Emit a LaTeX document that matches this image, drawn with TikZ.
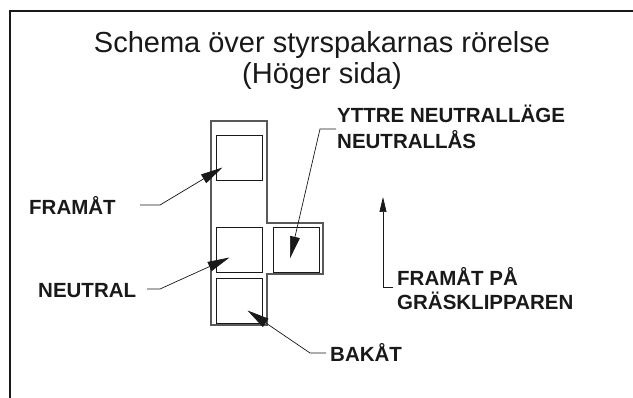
\documentclass[tikz,border=0pt]{standalone}
\usepackage{fontspec}
\setmainfont{Liberation Sans}
\usetikzlibrary{arrows.meta, positioning}
\definecolor{mainBlack}{gray}{0.1}
\definecolor{subGray}{gray}{0.35}

\begin{document}
\begin{tikzpicture}[x=1pt, y=-1pt,
    lbl/.style={font=\bfseries\fontsize{20.5}{23}\selectfont, text=mainBlack, inner sep=0pt, anchor=base west},
    ttl/.style={font=\fontsize{29}{32}\selectfont, text=mainBlack, inner sep=0pt, anchor=base},
    slot/.style={draw=mainBlack, line width=0.8pt, minimum width=46pt, minimum height=45pt, inner sep=0pt},
    pointer/.style={-{Triangle[length=22pt, width=10pt]}, mainBlack, line width=0.7pt}]
    \useasboundingbox (0,0) rectangle (633,398);

    % Frame
    \draw[line width=2pt, mainBlack] (10,399) -- (10,11) -- (634,11);

    % Title
    \node[ttl] (title) at (322,53) {Schema över styrspakarnas rörelse};
    \node[ttl] (side) at (322,84) {(Höger sida)};

    % Lever slot
    \draw[line width=1.3pt, subGray] (211,121) -- (267,121) -- (267,223) -- (323,223)
        -- (323,274) -- (267,274) -- (267,325) -- (211,325) -- cycle;
    \node[slot] (fwd) at (239.5,157.5) {};
    \node[slot] (neu) at (239.5,249.5) {};
    \node[slot] (out) at (296,249.5) {};
    \node[slot] (rev) at (239.5,300.5) {};

    % Labels
    \node[lbl] (framat) at (29,215) {FRAMÅT};
    \node[lbl] (neutral) at (38,298) {NEUTRAL};
    \node[lbl] (bakat) at (330,362) {BAKÅT};
    \node[lbl] (yttre) at (337,123) {YTTRE NEUTRALLÄGE};
    \node[lbl] (lock) at (337,149) {NEUTRALLÅS};
    \node[lbl] (mower) at (397,286) {FRAMÅT PÅ};
    \node[lbl] (grass) at (397,310) {GRÄSKLIPPAREN};

    % Pointers
    \draw[pointer] (140,205) -- (160,205) -- ([shift={(-17,10)}]fwd.center);
    \draw[pointer] (147,289) -- (160,289) -- ([shift={(-10,8)}]neu.center);
    \draw[pointer] ([xshift=-4pt, yshift=9pt]bakat.base west) -- ++(-16,0) -- ([shift={(8,10)}]rev.center);
    \draw[pointer] ([xshift=-1pt, yshift=-6pt]yttre.base west) -- ++(-16,0) -- ([shift={(-6,-14)}]out.south);

    % Direction
    \coordinate (hook) at (383,287);
    \draw[-{Triangle[length=15pt, width=7pt]}, mainBlack, line width=0.7pt]
        ([xshift=-4pt]mower.west |- hook) -- (hook) -- (383,197);
\end{tikzpicture}
\end{document}
